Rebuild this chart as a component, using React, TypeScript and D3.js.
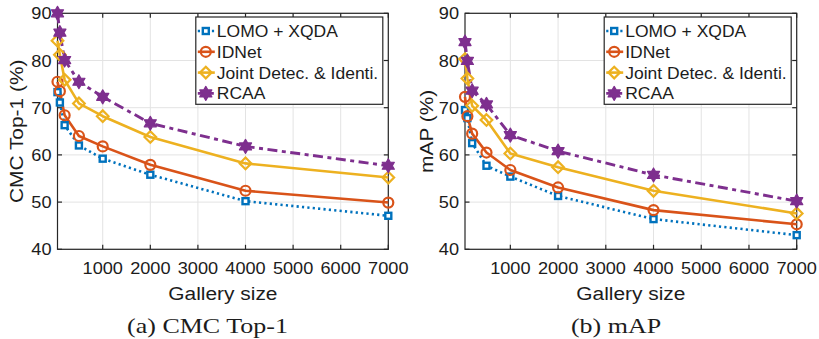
import React from "react";
import * as d3 from "d3";

const gallerySizes = [50, 100, 200, 500, 1000, 2000, 4000, 7000];
const xTicks = [1000, 2000, 3000, 4000, 5000, 6000, 7000];
const yTicks = [40, 50, 60, 70, 80, 90];
const seriesNames = ["LOMO + XQDA", "IDNet", "Joint Detec. & Identi.", "RCAA"];

const cmcLOMO = [73.3, 71.1, 66.3, 62.0, 59.2, 55.8, 50.2, 47.1];
const cmcIDNet = [75.5, 73.5, 68.4, 64.0, 61.8, 57.9, 52.4, 49.9];
const cmcJoint = [84.2, 81.2, 75.9, 70.9, 68.2, 63.8, 58.2, 55.2];
const cmcRCAA = [90.0, 85.9, 80.1, 75.5, 72.3, 66.7, 61.8, 57.7];

const mapLOMO = [69.5, 67.8, 62.5, 57.7, 55.4, 51.3, 46.4, 43.0];
const mapIDNet = [72.3, 68.2, 64.5, 60.5, 56.8, 53.1, 48.3, 45.3];
const mapJoint = [80.3, 76.2, 70.4, 67.4, 60.3, 57.4, 52.4, 47.6];
const mapRCAA = [83.9, 79.9, 73.6, 70.7, 64.2, 60.8, 55.75, 50.2];

const COLORS = ["#0072BD", "#D95319", "#EDB120", "#7E2F8E"];
const DASH = ["2.2,3.2", "", "", "10,4.5,4,4.5"];
const SANS = "'Liberation Sans', Arial, Helvetica, sans-serif";
const SERIF = "'Liberation Serif', 'Times New Roman', serif";

function hexagram(cx: number, cy: number, r: number) {
  const pts: string[] = [];
  const ri = r / Math.sqrt(3);
  for (let i = 0; i < 12; i++) {
    const a = (Math.PI / 6) * i - Math.PI / 2;
    const rr = i % 2 === 0 ? r : ri;
    pts.push(`${cx + rr * Math.cos(a)},${cy + rr * Math.sin(a)}`);
  }
  return `M${pts.join("L")}Z`;
}

function Marker({ kind, x, y }: { kind: number; x: number; y: number }) {
  const c = COLORS[kind];
  if (kind === 0)
    return <rect x={x - 3} y={y - 3} width={6} height={6} fill="#fff" stroke={c} strokeWidth={2.4} />;
  if (kind === 1) return <circle cx={x} cy={y} r={5} fill="none" stroke={c} strokeWidth={2.2} />;
  if (kind === 2)
    return (
      <path
        d={`M${x},${y - 5.8}L${x + 5.8},${y}L${x},${y + 5.8}L${x - 5.8},${y}Z`}
        fill="none"
        stroke={c}
        strokeWidth={2.2}
      />
    );
  return <path d={hexagram(x, y, 7)} fill={c} stroke={c} strokeWidth={1.2} strokeLinejoin="round" />;
}

function SText(props: {
  x: number;
  y: number;
  size: number;
  sx?: number;
  anchor?: string;
  rotate?: number;
  family?: string;
  children: React.ReactNode;
}) {
  const { x, y, size, sx = 1, anchor = "start", rotate = 0, family = SANS } = props;
  return (
    <text
      transform={`translate(${x},${y}) rotate(${rotate}) scale(${sx},1)`}
      fontSize={size}
      fontFamily={family}
      textAnchor={anchor}
      fill="#1c1c1c"
    >
      {props.children}
    </text>
  );
}

function Panel({
  left,
  right,
  data,
  yLabel,
  caption,
  yLabelX,
  captionX,
}: {
  left: number;
  right: number;
  data: number[][];
  yLabel: string;
  caption: string;
  yLabelX: number;
  captionX: number;
}) {
  const top = 13.3;
  const bottom = 249.3;
  const x = d3.scaleLinear().domain([50, 7000]).range([left, right]);
  const y = d3.scaleLinear().domain([40, 90]).range([bottom, top]);
  const line = d3
    .line<number>()
    .x((_, i) => x(gallerySizes[i]))
    .y((d) => y(d));
  const axisColor = "#262626";
  const tl = 4.5;
  const legL = right - 192.5;
  const legR = right - 5.5;
  const legT = 17;
  const legB = 104.3;
  const rowY = (i: number) => 31 + i * 20.8;
  return (
    <g>
      <rect x={left} y={top} width={right - left} height={bottom - top} fill="#fff" />
      {xTicks.map((t) => (
        <line key={"gx" + t} x1={x(t)} x2={x(t)} y1={top} y2={bottom} stroke="#e3e3e3" strokeWidth={1} />
      ))}
      {yTicks.map((t) => (
        <line key={"gy" + t} x1={left} x2={right} y1={y(t)} y2={y(t)} stroke="#e3e3e3" strokeWidth={1} />
      ))}
      <rect x={left} y={top} width={right - left} height={bottom - top} fill="none" stroke={axisColor} strokeWidth={1.2} />
      {xTicks.map((t) => (
        <g key={"tx" + t}>
          <line x1={x(t)} x2={x(t)} y1={bottom} y2={bottom - tl} stroke={axisColor} strokeWidth={1.2} />
          <line x1={x(t)} x2={x(t)} y1={top} y2={top + tl} stroke={axisColor} strokeWidth={1.2} />
          <SText x={x(t)} y={bottom + 24.5} size={16.5} sx={1.1} anchor="middle">
            {String(t)}
          </SText>
        </g>
      ))}
      {yTicks.map((t) => (
        <g key={"ty" + t}>
          <line x1={left} x2={left + tl} y1={y(t)} y2={y(t)} stroke={axisColor} strokeWidth={1.2} />
          <line x1={right} x2={right - tl} y1={y(t)} y2={y(t)} stroke={axisColor} strokeWidth={1.2} />
          <SText x={left - 6} y={y(t) + 6} size={16.5} sx={1.1} anchor="end">
            {String(t)}
          </SText>
        </g>
      ))}
      {data.map((vals, k) => (
        <path
          key={"l" + k}
          d={line(vals) || ""}
          fill="none"
          stroke={COLORS[k]}
          strokeWidth={k === 3 ? 2.9 : 2.6}
          strokeDasharray={DASH[k] || undefined}
          strokeLinejoin="round"
        />
      ))}
      {data.map((vals, k) => (
        <g key={"m" + k}>
          {vals.map((v, i) => (
            <Marker key={i} kind={k} x={x(gallerySizes[i])} y={y(v)} />
          ))}
        </g>
      ))}
      <rect x={legL} y={legT} width={legR - legL} height={legB - legT} fill="#fff" stroke={axisColor} strokeWidth={1.2} />
      {seriesNames.map((name, k) => (
        <g key={"lg" + k}>
          <line
            x1={legL + 2}
            x2={legL + 19}
            y1={rowY(k)}
            y2={rowY(k)}
            stroke={COLORS[k]}
            strokeWidth={2.6}
            strokeDasharray={DASH[k] ? (k === 0 ? "2.2,2.5" : "5,2,2,2") : undefined}
          />
          <Marker kind={k} x={legL + 10} y={rowY(k)} />
          <SText x={legL + 21} y={rowY(k) + 6} size={16.2} sx={1.08}>
            {name}
          </SText>
        </g>
      ))}
      <SText x={(left + right) / 2} y={299.5} size={19} sx={1.1} anchor="middle">
        Gallery size
      </SText>
      <SText x={yLabelX} y={(top + bottom) / 2} size={19} sx={1.1} anchor="middle" rotate={-90}>
        {yLabel}
      </SText>
      <SText x={captionX} y={333} size={20} sx={1.3} anchor="middle" family={SERIF}>
        {caption}
      </SText>
    </g>
  );
}

export default function App() {
  return (
    <svg
      width={819}
      height={339}
      viewBox="0 0 819 339"
      style={{ position: "absolute", left: 0, top: 0, background: "#fff" }}
    >
      <rect width={819} height={339} fill="#fff" />
      <Panel
        left={57.5}
        right={388.3}
        data={[cmcLOMO, cmcIDNet, cmcJoint, cmcRCAA]}
        yLabel="CMC Top-1 (%)"
        caption="(a) CMC Top-1"
        yLabelX={23}
        captionX={207.5}
      />
      <Panel
        left={465}
        right={796.7}
        data={[mapLOMO, mapIDNet, mapJoint, mapRCAA]}
        yLabel="mAP (%)"
        caption="(b) mAP"
        yLabelX={433}
        captionX={616}
      />
    </svg>
  );
}
